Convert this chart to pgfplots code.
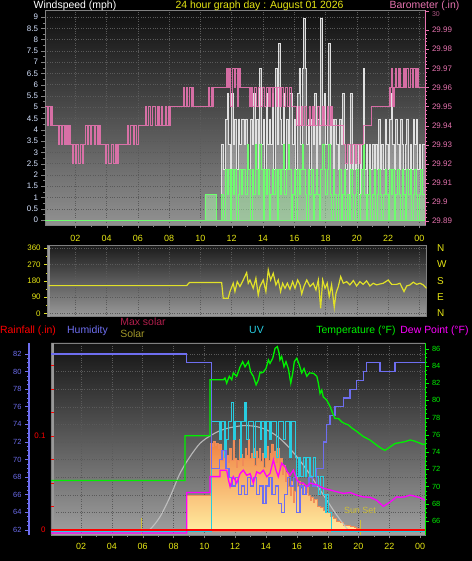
\documentclass[border=0pt]{standalone}
\usepackage{pgfplots}
\pgfplotsset{compat=1.18}
\usepackage{fontspec}
\setmainfont{Liberation Sans}
\newcommand{\fs}[1]{\fontsize{#1}{#1}\selectfont}
\definecolor{ylw}{RGB}{230,230,20}
\definecolor{baro}{RGB}{230,115,175}
\definecolor{gust}{RGB}{225,225,225}
\definecolor{avgw}{RGB}{110,255,110}
\definecolor{wdir}{RGB}{225,225,40}
\definecolor{hum}{RGB}{110,110,240}
\definecolor{temp}{RGB}{0,240,0}
\definecolor{dew}{RGB}{255,0,255}
\definecolor{uvc}{RGB}{40,205,225}
\definecolor{rain}{RGB}{255,0,0}
\definecolor{maxsolt}{RGB}{175,30,75}
\definecolor{solt}{RGB}{160,150,40}
\definecolor{lbl}{RGB}{215,228,255}
\definecolor{gridc}{RGB}{90,90,90}
\definecolor{tbgtop}{RGB}{15,15,15}
\definecolor{tbgbot}{RGB}{145,145,145}
\definecolor{mbgtop}{RGB}{28,28,28}
\definecolor{mbgbot}{RGB}{155,155,155}
\definecolor{bbgtop}{RGB}{20,20,20}
\definecolor{bbgbot}{RGB}{160,160,160}
\definecolor{solA}{RGB}{240,128,64}
\definecolor{solB}{RGB}{255,236,160}
\definecolor{solM}{RGB}{250,180,95}
\definecolor{solline}{RGB}{240,140,90}
\definecolor{maxsol}{RGB}{200,200,200}
\definecolor{sunc}{RGB}{205,190,60}

\pgfplotsset{
  panel/.style={scale only axis, anchor=south west,
    /pgf/number format/assume math mode=true,
    tick align=outside, major tick length=3.5bp, minor tick length=2bp,
    axis line style={draw=gray, line width=0.8bp},
    grid style={draw=gridc, dotted, line width=0.5bp}},
  ovl/.style={scale only axis, anchor=south west, hide axis,
    /pgf/number format/assume math mode=true},
  side/.style={scale only axis, anchor=south west,
    /pgf/number format/assume math mode=true,
    tick align=outside, major tick length=3.5bp, minor tick length=2bp,
    axis x line=none},
}

\begin{document}
\begin{tikzpicture}
\path[use as bounding box] (0,0) rectangle (472bp,561bp);
\fill[black] (0,0) rectangle (472bp,561bp);

% ================= TOP PANEL: wind speed =================
\begin{axis}[panel, at={(45bp,336bp)}, width=380bp, height=215bp,
  xmin=0.06, xmax=24.36, ymin=-0.22, ymax=9.31,
  axis background/.style={shade, top color=tbgtop, bottom color=tbgbot},
  xtick={2,4,...,24}, xticklabels={02,04,06,08,10,12,14,16,18,20,22,00},
  minor x tick num=1, xtick pos=left,
  ytick={0,0.5,...,9}, minor y tick num=1, ytick pos=left,
  xmajorgrids, ymajorgrids, tick style={draw=gray},
  xticklabel style={text=ylw, font=\fs{9}, yshift=-3bp},
  yticklabel style={text=lbl, font=\fs{8}},
]
\addplot[const plot, draw=gust, line width=0.9bp, fill=white, fill opacity=0.3] coordinates {
(0.06,0)(10.29,1.12)(11.04,0)(11.36,3.35)(11.5,2.24)(11.6,4.47)(11.7,5.59)(11.8,3.35)(11.9,2.24)(12.0,5.59)(12.1,3.35)(12.2,4.47)(12.3,2.24)(12.4,4.47)(12.5,3.35)(12.6,4.47)(12.7,4.47)(12.8,3.35)(12.9,4.47)(13.0,3.35)(13.1,2.24)(13.2,4.47)(13.3,3.35)(13.4,5.59)(13.5,3.35)(13.6,4.47)(13.7,2.24)(13.8,6.71)(13.9,3.35)(14.0,4.47)(14.1,2.24)(14.2,5.59)(14.3,3.35)(14.4,4.47)(14.5,3.35)(14.6,5.59)(14.7,2.24)(14.8,6.71)(14.9,3.35)(15.0,7.83)(15.1,4.47)(15.2,3.35)(15.3,5.59)(15.4,2.24)(15.5,4.47)(15.6,3.35)(15.7,5.59)(15.9,3.35)(16.0,4.47)(16.1,2.24)(16.2,5.59)(16.3,6.71)(16.4,3.35)(16.5,6.71)(16.6,8.95)(16.7,6.71)(16.8,3.35)(16.9,4.47)(17.0,2.24)(17.1,4.47)(17.2,3.35)(17.3,5.59)(17.4,2.24)(17.5,4.47)(17.6,3.35)(17.7,8.95)(17.8,4.47)(17.9,5.59)(18.0,3.35)(18.1,4.47)(18.2,7.83)(18.3,3.35)(18.4,4.47)(18.5,2.24)(18.6,4.47)(18.7,3.35)(18.8,2.24)(18.9,4.47)(19.0,3.35)(19.1,5.59)(19.2,3.35)(19.3,2.24)(19.4,3.35)(19.5,1.12)(19.6,5.59)(19.7,2.24)(19.8,3.35)(19.9,2.24)(20.0,3.35)(20.1,1.12)(20.2,3.35)(20.3,2.24)(20.4,6.71)(20.5,2.24)(20.6,3.35)(20.7,1.12)(20.8,3.35)(20.9,2.24)(21.0,3.35)(21.1,2.24)(21.2,3.35)(21.3,2.24)(21.4,4.47)(21.5,2.24)(21.6,3.35)(21.7,2.24)(21.8,4.47)(21.9,3.35)(22.0,2.24)(22.1,4.47)(22.2,5.59)(22.3,3.35)(22.4,2.24)(22.5,4.47)(22.6,3.35)(22.7,2.24)(22.8,4.47)(22.9,3.35)(23.0,2.24)(23.1,3.35)(23.2,4.47)(23.3,2.24)(23.4,3.35)(23.5,2.24)(23.6,4.47)(23.7,3.35)(23.8,4.47)(23.9,2.24)(24.0,3.35)(24.1,2.24)(24.2,3.35)(24.36,3.35)
} \closedcycle;
\addplot[const plot, draw=avgw, line width=0.9bp, fill=avgw, fill opacity=0.25] coordinates {
(0.06,0)(10.29,1.12)(11.04,0)(11.36,1.12)(11.5,0)(11.6,2.24)(11.7,1.12)(11.8,2.24)(11.9,0)(12.0,2.24)(12.1,1.12)(12.2,2.24)(12.3,0)(12.4,1.12)(12.5,2.24)(12.6,1.12)(12.7,2.24)(12.8,2.24)(12.9,1.12)(13.0,3.35)(13.1,2.24)(13.2,0)(13.3,2.24)(13.4,1.12)(13.5,3.35)(13.6,2.24)(13.7,1.12)(13.8,3.35)(13.9,2.24)(14.0,0)(14.1,2.24)(14.2,1.12)(14.3,2.24)(14.4,0)(14.5,1.12)(14.6,2.24)(14.7,1.12)(14.8,2.24)(14.9,0)(15.0,2.24)(15.1,1.12)(15.2,2.24)(15.3,3.35)(15.4,1.12)(15.5,2.24)(15.6,3.35)(15.7,2.24)(15.8,0)(15.9,1.12)(16.0,2.24)(16.1,0)(16.2,2.24)(16.3,1.12)(16.4,2.24)(16.5,3.35)(16.6,2.24)(16.7,1.12)(16.8,0)(16.9,2.24)(17.0,1.12)(17.1,2.24)(17.2,0)(17.3,1.12)(17.4,2.24)(17.5,1.12)(17.6,0)(17.7,2.24)(17.8,3.35)(17.9,2.24)(18.0,1.12)(18.1,2.24)(18.2,3.35)(18.3,1.12)(18.4,0)(18.5,2.24)(18.6,1.12)(18.7,0)(18.8,1.12)(18.9,2.24)(19.0,0)(19.1,1.12)(19.2,2.24)(19.3,0)(19.4,1.12)(19.5,0)(19.6,2.24)(19.7,1.12)(19.8,0)(19.9,1.12)(20.0,2.24)(20.1,0)(20.2,1.12)(20.3,2.24)(20.4,3.35)(20.5,1.12)(20.6,0)(20.7,1.12)(20.8,2.24)(20.9,0)(21.0,1.12)(21.1,2.24)(21.2,0)(21.3,1.12)(21.4,2.24)(21.5,1.12)(21.6,0)(21.7,1.12)(21.8,2.24)(21.9,1.12)(22.0,0)(22.1,2.24)(22.2,1.12)(22.3,2.24)(22.4,0)(22.5,1.12)(22.6,2.24)(22.7,1.12)(22.8,0)(22.9,2.24)(23.0,1.12)(23.1,0)(23.2,2.24)(23.3,1.12)(23.4,2.24)(23.5,0)(23.6,1.12)(23.7,2.24)(23.8,1.12)(23.9,0)(24.0,1.12)(24.1,2.24)(24.2,1.12)(24.36,1.12)
} \closedcycle;
\end{axis}

% barometer (right axis)
\begin{axis}[side, at={(45bp,336bp)}, width=380bp, height=215bp,
  xmin=0.06, xmax=24.36, ymin=29.888, ymax=30.0005,
  axis y line*=right, axis line style={draw=baro, line width=0.8bp, -},
  ytick={29.89,29.9,29.91,29.92,29.93,29.94,29.95,29.96,29.97,29.98,29.99},
  extra y ticks={30},
  extra y tick style={yticklabel style={yshift=-3.5bp, font=\fs{7}, text=baro!75!black}},
  minor y tick num=4, tick style={draw=baro},
  yticklabel style={text=baro, font=\fs{8}},
  /pgf/number format/.cd, fixed, precision=2,
]
\addplot[const plot, draw=baro, line width=1.1bp, opacity=0.9] coordinates {
(0.06,29.95)(0.2,29.94)(0.28,29.95)(0.4,29.94)(0.48,29.95)(0.56,29.94)
(0.91,29.93)(1.0,29.94)(1.1,29.93)(1.2,29.94)(1.3,29.93)(1.4,29.94)(1.5,29.93)(1.58,29.94)(1.66,29.93)
(1.81,29.92)(1.9,29.93)(2.0,29.92)(2.1,29.93)(2.2,29.92)(2.35,29.93)(2.45,29.92)(2.55,29.93)
(2.66,29.94)(2.75,29.93)(2.85,29.94)(2.95,29.93)(3.05,29.94)(3.2,29.93)(3.3,29.94)(3.45,29.93)(3.5,29.94)(3.58,29.93)
(3.9,29.92)(4.0,29.93)(4.1,29.92)(4.3,29.93)(4.45,29.92)(4.6,29.93)(4.68,29.92)(4.75,29.93)
(5.32,29.94)(5.42,29.93)(5.55,29.94)(5.7,29.93)(5.8,29.94)(5.92,29.93)(6.03,29.94)
(6.46,29.95)(6.55,29.94)(6.7,29.95)(6.8,29.94)(6.95,29.95)(7.1,29.94)(7.25,29.95)(7.35,29.94)(7.5,29.95)(7.6,29.94)(7.75,29.95)(7.85,29.94)(7.95,29.95)(8.0,29.94)(8.06,29.95)
(8.91,29.96)(9.0,29.95)(9.1,29.96)(9.2,29.95)(9.3,29.96)(9.45,29.95)(9.5,29.96)(9.54,29.95)
(10.5,29.96)(10.6,29.95)(10.7,29.96)(10.76,29.95)(10.82,29.96)
(11.68,29.97)(11.76,29.96)(11.85,29.97)(11.95,29.95)(12.05,29.97)(12.15,29.96)(12.25,29.97)(12.35,29.95)(12.45,29.97)(12.53,29.96)
(13.17,29.95)(13.25,29.96)(13.35,29.95)(13.45,29.96)(13.6,29.95)(13.7,29.96)(13.85,29.95)(13.95,29.96)(14.1,29.95)(14.2,29.96)(14.35,29.95)(14.45,29.96)(14.6,29.95)(14.7,29.96)(14.85,29.95)(14.95,29.96)(15.09,29.95)
(15.2,29.96)(15.3,29.95)(15.45,29.96)(15.55,29.95)(15.7,29.96)(15.8,29.95)
(16.16,29.94)(16.25,29.95)(16.35,29.94)(16.45,29.95)(16.55,29.94)(16.65,29.95)(16.8,29.94)(16.95,29.95)(17.05,29.94)(17.2,29.95)(17.3,29.94)(17.5,29.95)(17.6,29.94)(17.8,29.95)(17.9,29.94)(18.1,29.95)(18.2,29.94)(18.35,29.95)(18.42,29.94)
(19.14,29.93)(19.3,29.92)(19.4,29.93)(19.6,29.92)(19.7,29.93)(19.9,29.92)(20.0,29.93)(20.15,29.92)(20.22,29.93)
(20.41,29.94)(20.95,29.95)
(22.12,29.96)(22.2,29.97)(22.3,29.95)(22.38,29.96)(22.45,29.97)(22.55,29.96)(22.65,29.97)(22.76,29.96)(23.0,29.97)(23.08,29.96)(23.2,29.97)(23.3,29.96)(23.45,29.97)(23.55,29.96)(23.65,29.97)(23.75,29.96)(23.85,29.97)(23.95,29.96)(24.36,29.96)
};
\end{axis}

% ================= MIDDLE PANEL: wind direction =================
\begin{axis}[panel, at={(47.7bp,244.3bp)}, width=379bp, height=71bp,
  xmin=0.24, xmax=24.47, ymin=-19, ymax=374,
  axis background/.style={shade, top color=mbgtop, bottom color=mbgbot},
  xtick={2,4,...,24}, xticklabels={}, xtick style={draw=none},
  ytick={0,90,180,270,360}, minor y tick num=1, ytick pos=left,
  xmajorgrids, ymajorgrids, tick style={draw=wdir},
  yticklabel style={text=ylw, font=\fs{8}},
]
\draw[color=gray!80, line width=1.5bp] (rel axis cs:0.004,0) -- (rel axis cs:0.004,1);
\addplot[wdir, line width=1.2bp] coordinates {
(0.3,153)(9.12,153)(9.3,170)(11.36,170)(11.46,83)(11.78,83)(11.89,120)(12.1,166)(12.21,120)(12.36,175)(12.53,148)(12.74,184)(12.96,225)(13.06,166)(13.17,184)(13.38,138)(13.55,194)(13.7,101)(13.81,148)(14.02,184)(14.19,120)(14.34,240)(14.49,184)(14.66,221)(14.83,157)(14.98,184)(15.13,120)(15.26,166)(15.41,138)(15.56,166)(15.73,133)(15.9,175)(16.05,138)(16.22,184)(16.37,157)(16.48,107)(16.62,148)(16.8,184)(17.01,148)(17.22,166)(17.39,129)(17.54,184)(17.69,28)(17.82,184)(17.97,138)(18.11,166)(18.24,92)(18.39,157)(18.56,33)(18.67,111)(18.82,148)(18.97,203)(19.14,166)(19.35,175)(19.56,157)(19.78,181)(19.99,151)(20.2,175)(20.41,160)(20.63,179)(20.84,151)(21.05,166)(21.27,157)(21.48,162)(21.69,166)(22.01,184)(22.23,160)(22.55,160)(22.76,166)(23.02,120)(23.19,151)(23.4,157)(23.61,172)(23.83,160)(24.04,166)(24.25,157)(24.46,138)
};
\end{axis}
\begin{axis}[side, at={(47.7bp,244.3bp)}, width=379bp, height=71bp,
  xmin=0.24, xmax=24.47, ymin=-19, ymax=374,
  axis y line*=right, axis line style={draw=none},
  ytick={0,90,180,270,360}, yticklabels={N,E,S,W,N}, major tick length=0pt,
  yticklabel style={text=ylw, font=\fs{10}, xshift=7bp},
]
\end{axis}

% ================= BOTTOM PANEL =================
\begin{axis}[panel, at={(51bp,26bp)}, width=374bp, height=192bp,
  xmin=0.05, xmax=24.32, ymin=61.43, ymax=83.25,
  axis background/.style={shade, top color=bbgtop, bottom color=bbgbot},
  xtick={2,4,...,24}, xticklabels={02,04,06,08,10,12,14,16,18,20,22,00},
  minor x tick num=1, xtick pos=left,
  ytick={62,64,...,82}, yticklabels={}, ytick style={draw=none},
  xmajorgrids, ymajorgrids, tick style={draw=gray},
  xticklabel style={text=ylw, font=\fs{9}, yshift=-1bp},
]
\draw[color=gray!80, line width=1.5bp] (rel axis cs:0.006,0) -- (rel axis cs:0.006,1);
\end{axis}

% solar
\begin{axis}[ovl, at={(51bp,26bp)}, width=374bp, height=192bp,
  xmin=0.05, xmax=24.32, ymin=-34, ymax=1598]
\addplot[const plot, draw=solline, line width=0.6bp, top color=solA, middle color=solM, bottom color=solB] coordinates {
(0.05,0)(8.86,300)(10.37,745)(10.5,720)(10.6,760)(10.7,730)(10.8,745)(10.9,700)(11.0,740)(11.13,600)(11.25,680)(11.35,560)(11.45,640)(11.55,580)(11.65,700)(11.75,600)(11.85,770)(11.95,620)(12.05,540)(12.15,600)(12.25,780)(12.35,650)(12.45,560)(12.55,620)(12.65,700)(12.75,640)(12.85,780)(12.95,620)(13.05,660)(13.15,700)(13.25,560)(13.35,680)(13.45,620)(13.55,700)(13.65,590)(13.75,660)(13.85,540)(13.95,640)(14.05,720)(14.15,600)(14.25,660)(14.35,740)(14.45,620)(14.55,680)(14.65,580)(14.75,700)(14.85,520)(14.95,620)(15.05,480)(15.15,560)(15.25,420)(15.35,500)(15.45,380)(15.55,300)(15.65,420)(15.75,240)(15.85,340)(15.95,460)(16.05,380)(16.15,420)(16.25,360)(16.35,400)(16.45,380)(16.55,330)(16.65,370)(16.75,300)(16.85,260)(16.95,290)(17.05,240)(17.15,270)(17.3,207)(17.5,200)(17.72,175)(17.94,160)(18.16,122)(18.4,110)(18.59,79)(18.8,70)(19.02,51)(19.24,45)(19.46,37)(19.7,30)(19.89,23)(20.1,16)(20.32,12)(20.6,6)(20.8,0)(24.32,0)
} \closedcycle;
\addplot[maxsol, line width=1.1bp, opacity=0.85, smooth] coordinates {
(6.0,0)(6.48,15)(7.13,122)(7.78,292)(8.42,490)(9.07,632)(9.72,745)(10.37,808)(11.02,853)(11.67,878)(12.32,893)(12.75,896)(13.4,887)(14.05,859)(14.7,808)(15.35,731)(16.0,632)(16.65,519)(17.3,391)(17.94,264)(18.59,136)(19.24,23)(19.46,0)
};
\addplot[sunc, line width=0.9bp] coordinates {(5.9,-30)(5.9,110)};
\addplot[sunc, line width=0.9bp] coordinates {(20.15,-30)(20.15,94)};
\node[text=sunc, font=\fs{9}] at (axis cs:20.1,176) {Sun Set};
\end{axis}

% UV
\begin{axis}[ovl, at={(51bp,26bp)}, width=374bp, height=192bp,
  xmin=0.05, xmax=24.32, ymin=-0.22, ymax=10.27]
\addplot[const plot, draw=uvc, line width=1.1bp] coordinates {
(0.05,0)(10.48,6)(11.02,5)(11.13,6)(11.34,4)(11.45,5)(11.56,6)(11.67,6)(11.78,7)(11.88,5)(11.99,6)(12.1,6)(12.32,4)(12.43,6)(12.55,6)(12.64,7)(12.75,5)(12.86,6)(12.97,6)(13.18,4)(13.3,6)(13.4,6)(13.62,5)(13.73,6)(13.94,4)(14.05,6)(14.26,5)(14.37,6)(14.48,6)(14.7,4)(14.8,6)(14.91,6)(15.13,5)(15.24,6)(15.35,6)(15.56,4)(15.67,6)(15.78,6)(15.89,4)(16.0,3)(16.1,4)(16.21,3)(16.43,4)(16.55,3)(16.65,4)(16.86,3)(17.08,4)(17.2,3)(17.3,3)(17.4,2)(17.51,3)(17.72,2)(17.85,1)(17.94,2)(18.05,1)(18.16,1)(18.27,0)(24.32,0)
};
\end{axis}

% humidity
\begin{axis}[ovl, at={(51bp,26bp)}, width=374bp, height=192bp,
  xmin=0.05, xmax=24.32, ymin=61.43, ymax=83.25]
\addplot[const plot, draw=hum, line width=1.3bp] coordinates {
(0.05,82)(8.86,81)(10.48,69)(11.0,70)(11.15,71)(11.4,69)(11.6,68)(11.8,67)(12.0,68)(12.2,66)(12.4,67)(12.6,66)(12.8,68)(13.0,67)(13.2,68)(13.4,66)(13.6,67)(13.8,65)(14.0,67)(14.2,68)(14.4,66)(14.6,67)(14.8,65)(15.0,64)(15.2,66)(15.4,68)(15.6,67)(15.8,68)(16.0,64)(16.2,67)(16.4,66)(16.6,67)(16.8,68)(17.0,67)(17.3,69)(17.72,72)(17.94,74)(18.16,75)(18.48,76)(19.02,77)(19.46,78)(19.89,79)(20.32,80)(20.54,81)(21.4,80)(22.38,81)(24.32,81)
};
\end{axis}

% temperature and dew point (right axis)
\begin{axis}[side, at={(51bp,26bp)}, width=374bp, height=192bp,
  xmin=0.05, xmax=24.32, ymin=64.37, ymax=86.67,
  axis y line*=right, axis line style={draw=temp, line width=0.8bp, -},
  ytick={66,68,...,86}, minor y tick num=3, tick style={draw=temp},
  yticklabel style={text=temp, font=\fs{7.5}},
]
\addplot[dew, line width=1.3bp] coordinates {
(0.05,64.6)(8.86,64.6)(8.86,69.3)(10.37,69.3)(10.37,71.15)(11.02,71.15)(11.02,71.9)(11.45,71.9)(11.56,70.8)(11.67,70.0)(11.88,71.15)(12.1,70.4)(12.32,71.5)(12.53,71.9)(12.75,71.3)(12.97,71.5)(13.18,70.4)(13.4,71.7)(13.62,71.5)(13.83,71.9)(14.05,71.15)(14.26,71.5)(14.48,73.1)(14.65,71.9)(14.8,71.15)(15.02,72.7)(15.24,72.3)(15.39,71.7)(15.56,71.3)(15.78,71.9)(16.0,70.8)(16.21,70.4)(16.43,70.4)(16.65,70.0)(16.86,70.4)(17.3,70.2)(17.72,69.8)(18.16,69.6)(18.59,69.4)(19.02,69.2)(19.46,69.3)(19.89,69.0)(20.32,68.8)(20.75,68.75)(21.19,68.4)(21.62,67.7)(22.05,68.2)(22.49,68.8)(22.7,68.75)(23.0,68.8)(23.35,69.0)(23.6,68.9)(24.0,68.7)(24.32,68.4)
};
\addplot[temp, line width=1.3bp] coordinates {
(0.05,70.7)(8.75,70.7)(8.75,75.9)(10.37,75.9)(10.37,82.4)(11.02,82.4)(11.24,82.4)(11.34,82.6)(11.45,82.0)(11.62,82.8)(11.78,82.4)(11.88,83.2)(12.1,82.8)(12.32,83.9)(12.49,84.5)(12.64,83.9)(12.86,84.5)(13.01,83.3)(13.18,82.8)(13.36,81.8)(13.51,82.4)(13.62,83.3)(13.72,83.2)(13.83,83.3)(14.0,83.7)(14.16,84.7)(14.26,84.3)(14.44,84.9)(14.59,86.05)(14.74,86.25)(14.85,85.5)(14.91,84.7)(15.02,85.1)(15.17,83.9)(15.3,84.5)(15.45,83.7)(15.61,82.0)(15.74,83.2)(15.84,84.5)(16.0,84.9)(16.17,84.1)(16.32,83.2)(16.47,83.7)(16.65,82.8)(16.82,83.2)(17.08,83.15)(17.3,82.8)(17.4,82.0)(17.51,80.8)(17.62,81.2)(17.72,80.4)(17.94,80.05)(18.16,79.3)(18.33,78.5)(18.48,77.9)(18.7,77.9)(18.92,77.5)(19.13,77.3)(19.35,77.15)(19.57,76.8)(19.89,76.4)(20.32,75.8)(20.75,75.4)(21.19,74.8)(21.51,74.4)(21.73,74.2)(22.05,74.6)(22.38,75.0)(22.7,75.1)(23.0,75.2)(23.35,75.4)(23.6,75.3)(23.9,75.1)(24.17,74.9)(24.32,74.9)
};
\end{axis}

% rainfall (left, red)
\begin{axis}[side, at={(51bp,26bp)}, width=374bp, height=192bp,
  xmin=0.05, xmax=24.32, ymin=-0.0053, ymax=0.199,
  axis y line*=left, axis line style={draw=none},
  tick align=inside, ytick={0,0.1},
  minor ytick={0.025,0.05,0.075,0.125,0.15,0.175},
  tick style={draw=rain}, major tick length=3bp, minor tick length=3bp,
  yticklabel style={text=rain, font=\fs{8}, xshift=-2bp},
]
\addplot[rain, line width=1.8bp] coordinates {(0.05,0)(24.32,0)};
\end{axis}

% humidity scale at left
\begin{axis}[side, at={(29bp,26bp)}, width=1bp, height=192bp,
  xmin=0, xmax=1, ymin=61.43, ymax=83.25,
  axis y line*=left, axis line style={draw=hum, line width=1.5bp, -},
  ytick={62,64,...,82}, minor y tick num=3, tick style={draw=hum, line width=0.8bp},
  major tick length=4bp, minor tick length=2.5bp,
  yticklabel style={text=hum, font=\fs{7.5}},
]
\end{axis}

% ================= headers =================
\node[anchor=base, text=white, font=\fs{10.5}] at (75bp,552.3bp) {Windspeed (mph)};
\node[anchor=base, text=ylw, font=\fs{10.5}] at (259.5bp,552.3bp) {24 hour graph day : August 01 2026};
\node[anchor=base, text=baro, font=\fs{10.5}] at (424.5bp,552.3bp) {Barometer (.in)};

\node[anchor=base, text=rain, font=\fs{10.5}] at (28bp,227bp) {Rainfall (.in)};
\node[anchor=base, text=hum, font=\fs{10.5}] at (87.5bp,227bp) {Humidity};
\node[anchor=base, text=maxsolt, font=\fs{10.5}] at (143bp,235bp) {Max solar};
\node[anchor=base, text=solt, font=\fs{10.5}] at (132.5bp,223bp) {Solar};
\node[anchor=base, text=uvc, font=\fs{10.5}] at (256.5bp,227bp) {UV};
\node[anchor=base, text=temp, font=\fs{10.5}] at (356bp,227bp) {Temperature (°F)};
\node[anchor=base, text=dew, font=\fs{10.5}] at (434.5bp,227bp) {Dew Point (°F)};
\end{tikzpicture}
\end{document}
